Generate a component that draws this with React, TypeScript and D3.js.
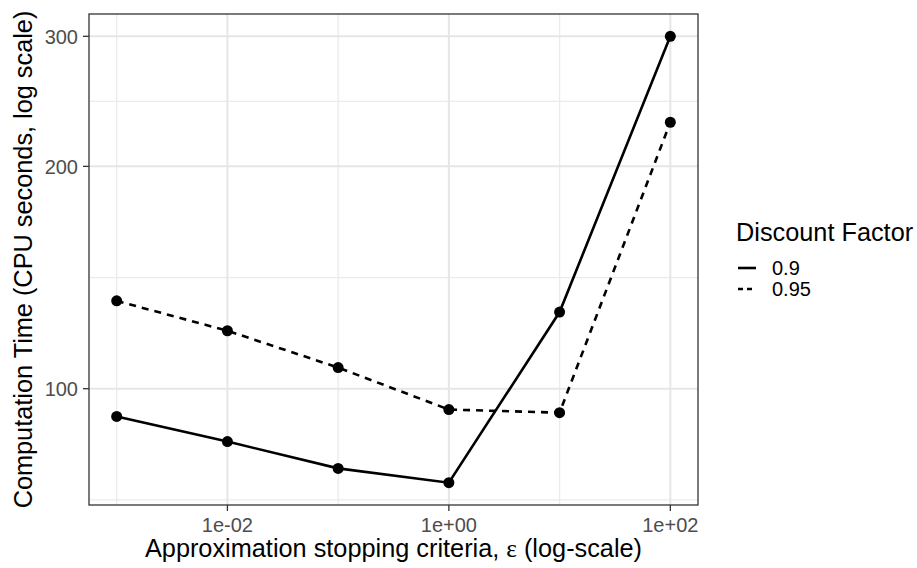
import * as d3 from "d3";

// data
const epsilon = [0.001, 0.01, 0.1, 1, 10, 100];
const factors = ["0.9", "0.95"];
const time09 = [91.7, 84.8, 78.0, 74.6, 127, 300];
const time095 = [131.5, 119.8, 106.8, 93.7, 92.8, 229.5];
const xBreaks = [0.01, 1, 100];
const xLabels = ["1e-02", "1e+00", "1e+02"];
const yBreaks = [100, 200, 300];

const W = 917;
const H = 568;
const panel = { left: 89, right: 698, top: 14, bottom: 505 };
const font = "'Liberation Sans', Arial, Helvetica, sans-serif";

export default function App() {
  const series = [time09, time095];

  // ggplot-style 5% expansion in log space
  const lx = d3.extent(epsilon.map(Math.log10)) as [number, number];
  const ly = d3.extent(series.flat().map(Math.log10)) as [number, number];
  const ex = (lx[1] - lx[0]) * 0.05;
  const ey = (ly[1] - ly[0]) * 0.05;

  const x = d3
    .scaleLog()
    .domain([10 ** (lx[0] - ex), 10 ** (lx[1] + ex)])
    .range([panel.left, panel.right]);
  const y = d3
    .scaleLog()
    .domain([10 ** (ly[0] - ey), 10 ** (ly[1] + ey)])
    .range([panel.bottom, panel.top]);

  // minor breaks: midpoints (in log space) between majors, extended one step
  const minorOf = (b: number[], dom: number[]) => {
    const lb = b.map(Math.log10);
    const ext = [lb[0] - (lb[1] - lb[0]), ...lb, lb[lb.length - 1] + (lb[lb.length - 1] - lb[lb.length - 2])];
    const out: number[] = [];
    for (let i = 0; i < ext.length - 1; i++) out.push(10 ** ((ext[i] + ext[i + 1]) / 2));
    return out.filter((v) => v >= dom[0] && v <= dom[1]);
  };
  const xMinor = minorOf(xBreaks, x.domain());
  const yMinor = minorOf(yBreaks, y.domain());

  const line = d3
    .line<number>()
    .x((d, i) => x(epsilon[i]))
    .y((d) => y(d));

  const dash = "7,6";

  return (
    <svg width={W} height={H} style={{ position: "absolute", left: 0, top: 0, background: "#fff" }}>
      {/* minor grid */}
      {xMinor.map((v, i) => (
        <line key={"xm" + i} x1={x(v)} x2={x(v)} y1={panel.top} y2={panel.bottom} stroke="#ebebeb" strokeWidth={1.3} />
      ))}
      {yMinor.map((v, i) => (
        <line key={"ym" + i} x1={panel.left} x2={panel.right} y1={y(v)} y2={y(v)} stroke="#ebebeb" strokeWidth={1.3} />
      ))}
      {/* major grid */}
      {xBreaks.map((v, i) => (
        <line key={"xg" + i} x1={x(v)} x2={x(v)} y1={panel.top} y2={panel.bottom} stroke="#e6e6e6" strokeWidth={2} />
      ))}
      {yBreaks.map((v, i) => (
        <line key={"yg" + i} x1={panel.left} x2={panel.right} y1={y(v)} y2={y(v)} stroke="#e6e6e6" strokeWidth={2} />
      ))}

      {/* series */}
      {series.map((s, k) => (
        <g key={"s" + k}>
          <path
            d={line(s) || ""}
            fill="none"
            stroke="#000"
            strokeWidth={2.6}
            strokeDasharray={k === 1 ? dash : undefined}
          />
          {s.map((v, i) => (
            <circle key={i} cx={x(epsilon[i])} cy={y(v)} r={5.5} fill="#000" />
          ))}
        </g>
      ))}

      {/* panel border */}
      <rect
        x={panel.left}
        y={panel.top}
        width={panel.right - panel.left}
        height={panel.bottom - panel.top}
        fill="none"
        stroke="#333"
        strokeWidth={1.3}
      />

      {/* y axis */}
      {yBreaks.map((v, i) => (
        <g key={"yt" + i}>
          <line x1={panel.left - 6} x2={panel.left} y1={y(v)} y2={y(v)} stroke="#333" strokeWidth={1.3} />
          <text x={panel.left - 11} y={y(v)} dy="0.36em" textAnchor="end" fontFamily={font} fontSize={20} fill="#4d4d4d">
            {v}
          </text>
        </g>
      ))}
      {/* x axis */}
      {xBreaks.map((v, i) => (
        <g key={"xt" + i}>
          <line x1={x(v)} x2={x(v)} y1={panel.bottom} y2={panel.bottom + 6} stroke="#333" strokeWidth={1.3} />
          <text x={x(v)} y={panel.bottom + 27} textAnchor="middle" fontFamily={font} fontSize={20} fill="#4d4d4d">
            {xLabels[i]}
          </text>
        </g>
      ))}

      {/* axis titles */}
      <text
        x={(panel.left + panel.right) / 2}
        y={557}
        textAnchor="middle"
        fontFamily={font}
        fontSize={25.3}
        fill="#000"
      >
        Approximation stopping criteria, <tspan fontFamily="'Liberation Serif', 'Times New Roman', serif">ε</tspan> (log-scale)
      </text>
      <text
        transform={`translate(32,${(panel.top + panel.bottom) / 2}) rotate(-90)`}
        textAnchor="middle"
        fontFamily={font}
        fontSize={25.3}
        fill="#000"
      >
        Computation Time (CPU seconds, log scale)
      </text>

      {/* legend */}
      <text x={736} y={241} fontFamily={font} fontSize={25.3} fill="#000">
        Discount Factor
      </text>
      {factors.map((f, i) => (
        <g key={"lg" + i}>
          <line
            x1={738}
            x2={756}
            y1={268 + i * 21}
            y2={268 + i * 21}
            stroke="#000"
            strokeWidth={2.6}
            strokeDasharray={i === 1 ? "5,4" : undefined}
          />
          <text x={772} y={275 + i * 21} fontFamily={font} fontSize={20} fill="#000">
            {f}
          </text>
        </g>
      ))}
    </svg>
  );
}
